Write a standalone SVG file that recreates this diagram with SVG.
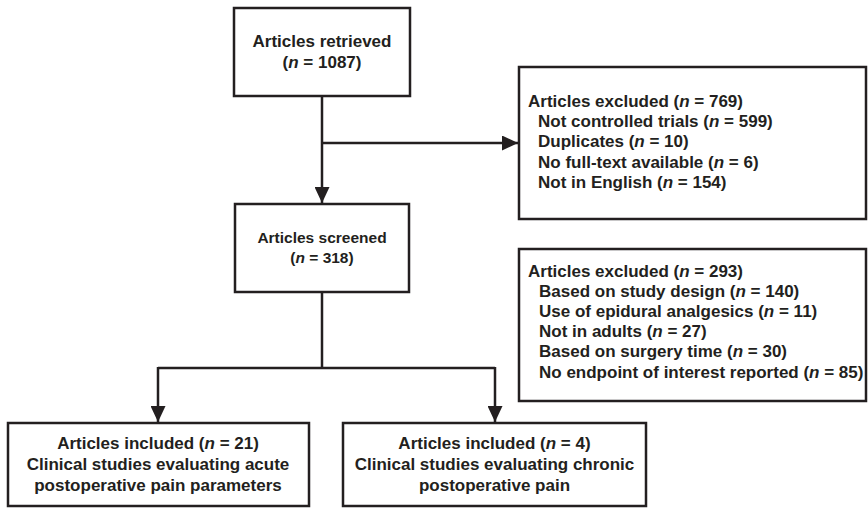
<svg xmlns="http://www.w3.org/2000/svg" width="868" height="508" viewBox="0 0 868 508">
  <defs>
    <marker id="ah" viewBox="0 0 16 15" refX="16" refY="7.5" markerWidth="16" markerHeight="15" markerUnits="userSpaceOnUse" orient="auto">
      <path d="M0,0 L16,7.5 L0,15 Z" fill="#231f20"/>
    </marker>
  </defs>
  <style>
    .box { fill: #ffffff; stroke: #231f20; stroke-width: 2.5; }
    .t { font-family: "Liberation Sans", Arial, sans-serif; font-weight: bold; fill: #231f20; }
    .c { text-anchor: middle; }
    .conn { fill: none; stroke: #231f20; stroke-width: 2.5; }
  </style>
  <rect width="868" height="508" fill="#ffffff"/>

  <g id="connectors">
    <path class="conn" d="M322,96 V203" marker-end="url(#ah)"/>
    <path class="conn" d="M322,143 H518" marker-end="url(#ah)"/>
    <path class="conn" d="M322,292 V368"/>
    <path class="conn" d="M158,368 H495"/>
    <path class="conn" d="M158,367 V422" marker-end="url(#ah)"/>
    <path class="conn" d="M495,367 V422" marker-end="url(#ah)"/>
  </g>

  <g id="retrieved">
    <rect class="box" x="234" y="8" width="176" height="88"/>
    <text class="t c" x="322" y="47" font-size="17">Articles retrieved</text>
    <text class="t c" x="322" y="68" font-size="17">(<tspan font-style="italic">n</tspan> = 1087)</text>
  </g>

  <g id="excluded1">
    <rect class="box" x="519" y="67" width="347" height="152"/>
    <text class="t" x="528" y="107" font-size="17">Articles excluded (<tspan font-style="italic">n</tspan> = 769)</text>
    <text class="t" x="538" y="127" font-size="17">Not controlled trials (<tspan font-style="italic">n</tspan> = 599)</text>
    <text class="t" x="538" y="147" font-size="17">Duplicates (<tspan font-style="italic">n</tspan> = 10)</text>
    <text class="t" x="538" y="168" font-size="17">No full-text available (<tspan font-style="italic">n</tspan> = 6)</text>
    <text class="t" x="538" y="188" font-size="17">Not in English (<tspan font-style="italic">n</tspan> = 154)</text>
  </g>

  <g id="screened">
    <rect class="box" x="235" y="204" width="174" height="88"/>
    <text class="t c" x="322" y="243" font-size="15.5">Articles screened</text>
    <text class="t c" x="322" y="263" font-size="15.5">(<tspan font-style="italic">n</tspan> = 318)</text>
  </g>

  <g id="excluded2">
    <rect class="box" x="519" y="249" width="347" height="152"/>
    <text class="t" x="528" y="277" font-size="17">Articles excluded (<tspan font-style="italic">n</tspan> = 293)</text>
    <text class="t" x="539" y="297" font-size="17">Based on study design (<tspan font-style="italic">n</tspan> = 140)</text>
    <text class="t" x="539" y="317" font-size="17">Use of epidural analgesics (<tspan font-style="italic">n</tspan> = 11)</text>
    <text class="t" x="539" y="337" font-size="17">Not in adults (<tspan font-style="italic">n</tspan> = 27)</text>
    <text class="t" x="539" y="357" font-size="17">Based on surgery time (<tspan font-style="italic">n</tspan> = 30)</text>
    <text class="t" x="539" y="378" font-size="17">No endpoint of interest reported (<tspan font-style="italic">n</tspan> = 85)</text>
  </g>

  <g id="included1">
    <rect class="box" x="8" y="423" width="301" height="83"/>
    <text class="t c" x="158" y="449" font-size="17">Articles included (<tspan font-style="italic">n</tspan> = 21)</text>
    <text class="t c" x="158" y="470" font-size="17">Clinical studies evaluating acute</text>
    <text class="t c" x="158" y="491" font-size="17">postoperative pain parameters</text>
  </g>

  <g id="included2">
    <rect class="box" x="343" y="423" width="303" height="83"/>
    <text class="t c" x="494.5" y="449" font-size="17">Articles included (<tspan font-style="italic">n</tspan> = 4)</text>
    <text class="t c" x="494.5" y="470" font-size="17">Clinical studies evaluating chronic</text>
    <text class="t c" x="494.5" y="491" font-size="17">postoperative pain</text>
  </g>
</svg>
